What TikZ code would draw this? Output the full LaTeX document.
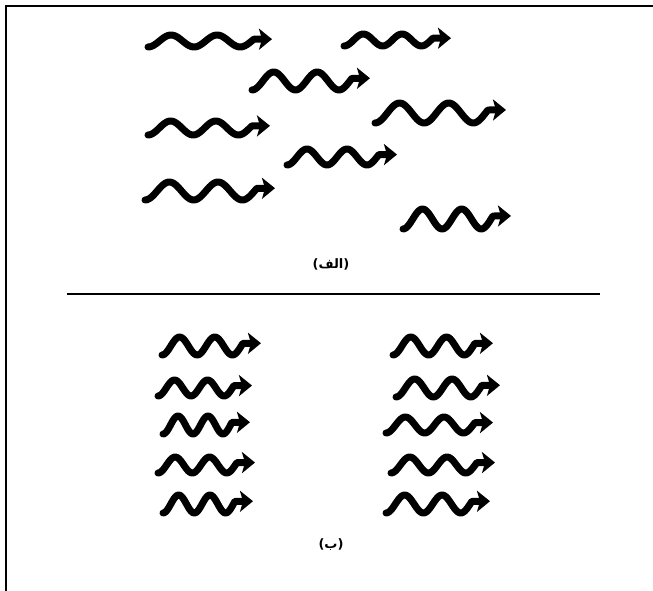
\documentclass[tikz,border=0pt]{standalone}
\usepackage{fontspec}
\newfontfamily\arabicfont[Script=Arabic]{DejaVu Sans}
\TeXXeTstate=1
\usetikzlibrary{arrows.meta}
\begin{document}
\begin{tikzpicture}[x=1pt,y=-1pt,
  wave/.style={line width=7pt,line cap=round,line join=round,-{Stealth[length=13pt,width=21pt,inset=3pt]}},
  rule/.style={line width=2pt},
  every node/.style={font=\fontsize{13}{15}\selectfont\arabicfont\bfseries,inner sep=1pt}]
  \useasboundingbox (0,0) rectangle (653,591);
  \coordinate (TR) at (653,6); \coordinate (TL) at (6,6); \coordinate (BL) at (6,591);
  \coordinate (SL) at (67,294); \coordinate (SR) at (600,294);
  \draw[rule] (TR)--(TL)--(BL);
  \draw[rule] (SL)--(SR);
  % (الف): scattered waves
  \foreach \xa/\xb/\yc/\amp in {148/272/41/6, 344/451/40/6, 252/370/81/9, 375/506/113/10,
      148/270/128/7, 287/397/157/8, 145/275/191/9, 403/511/219/10}
    \draw[wave] plot[variable=\t,domain=0:1,samples=60,smooth]
      ({\xa+\t*(\xb-\xa-18)},{\yc+\amp*cos(\t*2.3*360)}) -- (\xb,{\yc+\amp*cos(828)});
  % (ب): aligned waves
  \foreach \xa/\xb/\yc/\amp in {162/261/346/9, 158/252/388/8, 163/250/425/9, 158/255/465/8, 163/253/504/9,
      393/493/346/9, 396/500/388/9, 386/493/425/8, 391/495/465/8, 386/490/504/9}
    \draw[wave] plot[variable=\t,domain=0:1,samples=60,smooth]
      ({\xa+\t*(\xb-\xa-18)},{\yc+\amp*cos(\t*2.3*360)}) -- (\xb,{\yc+\amp*cos(828)});
  \node (lblA) at (331,264) {\beginR(الف)\endR};
  \node (lblB) at (331,545) {\beginR(ب)\endR};
\end{tikzpicture}
\end{document}
